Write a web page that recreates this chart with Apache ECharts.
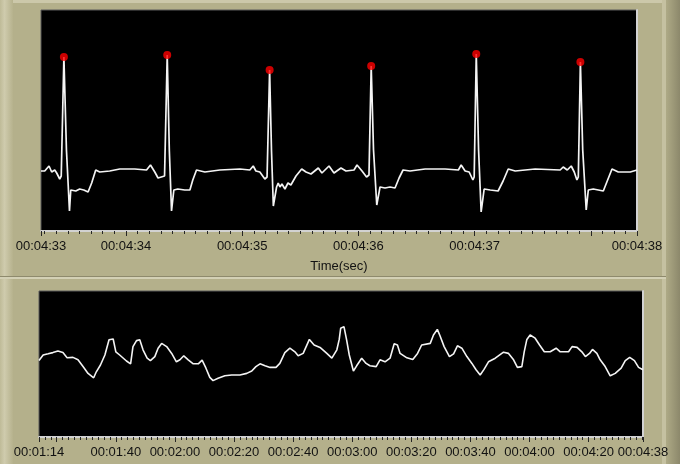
<!DOCTYPE html>
<html>
<head>
<meta charset="utf-8">
<script src="https://cdn.jsdelivr.net/npm/echarts@6/dist/echarts.min.js"></script>
<style>html,body{margin:0;padding:0;background:#b4b08b;}#c{width:680px;height:464px;}</style>
</head>
<body>
<div id="c"></div>
<script>
// ---- ECG strip (top): time in seconds, amplitude in mV ----
const ecgTime = [273.269,273.301,273.338,273.361,273.387,273.404,273.430,273.443,273.466,273.488,273.514,273.525,273.542,273.568,273.602,273.637,273.674,273.705,273.740,273.774,273.860,273.947,274.076,274.177,274.211,274.248,274.276,274.332,274.355,274.373,274.392,274.412,274.446,274.506,274.550,274.575,274.607,274.679,274.808,274.980,275.066,275.095,275.118,275.152,275.195,275.214,275.236,275.252,275.268,275.296,275.310,275.325,275.342,275.368,275.394,275.419,275.463,275.512,275.549,275.592,275.655,275.686,275.747,275.790,275.850,275.893,275.962,275.988,276.031,276.070,276.091,276.110,276.130,276.158,276.186,276.229,276.272,276.315,276.350,276.384,276.444,276.574,276.746,276.860,276.884,276.918,276.953,276.985,276.996,277.014,277.034,277.056,277.082,277.134,277.202,277.245,277.289,277.349,277.521,277.736,277.762,277.797,277.831,277.857,277.880,277.892,277.910,277.930,277.960,277.978,278.021,278.107,278.141,278.182,278.236,278.339,278.397];
const ecgMv = [-0.01,-0.01,0.04,-0.02,0.00,-0.03,-0.09,-0.06,1.13,0.20,-0.41,-0.20,-0.18,-0.21,-0.19,-0.20,-0.22,-0.13,0.00,-0.02,-0.01,0.01,0.01,0.00,0.05,-0.02,-0.08,-0.06,1.15,0.20,-0.41,-0.20,-0.19,-0.20,-0.20,-0.10,0.00,-0.02,0.00,0.01,0.00,0.04,-0.01,-0.02,-0.09,-0.07,1.00,0.20,-0.36,-0.17,-0.13,-0.17,-0.14,-0.19,-0.13,-0.15,-0.06,0.01,-0.02,-0.04,0.02,-0.03,0.04,-0.03,0.02,-0.01,0.00,0.05,-0.01,-0.07,-0.05,1.04,0.20,-0.35,-0.17,-0.18,-0.17,-0.18,-0.08,0.00,-0.01,0.01,0.01,0.00,0.05,-0.01,-0.02,-0.10,-0.07,1.16,0.20,-0.42,-0.19,-0.20,-0.21,-0.11,0.01,-0.01,0.01,0.00,0.03,0.00,0.04,-0.02,-0.10,-0.07,1.08,0.20,-0.40,-0.20,-0.19,-0.21,-0.11,0.01,-0.02,-0.02,0.00];
const peakTime = [273.466,274.355,275.236,276.110,277.014,277.910];
const peakMv = [1.13,1.15,1.00,1.04,1.16,1.08];
const ecgStart = 273.269, ecgEnd = 278.397;
const ecgMajorTicks = [273.269,274,275,276,277,278,278.397];
const ecgLabelTicks = [273.269,274,275,276,277,278.397];

// ---- Heart-rate trend (bottom): time in seconds, beats per minute ----
const trendTime = [74.0,75.4,77.1,78.7,80.4,82.1,83.5,85.5,87.2,88.9,90.6,92.5,93.4,94.8,96.3,97.7,99.1,100.0,101.3,103.6,105.0,105.8,107.0,108.1,109.2,110.6,111.7,113.2,114.3,115.5,117.2,118.9,120.5,121.7,123.0,124.5,126.2,127.9,129.2,130.5,131.8,132.9,134.6,136.9,139.2,142.0,144.3,146.0,147.4,148.8,150.5,152.2,154.2,155.5,157.2,158.9,160.6,161.7,163.4,165.5,167.1,169.1,171.4,173.1,174.8,175.6,176.1,177.2,178.1,179.0,180.4,181.5,183.2,184.7,186.0,188.1,189.4,191.1,192.8,194.2,195.3,196.2,198.5,200.5,202.1,203.5,206.4,207.5,208.8,209.7,211.1,212.9,214.3,215.6,217.1,218.8,220.5,221.9,223.3,224.6,226.1,228.4,231.2,232.9,234.6,235.9,237.4,238.2,239.1,240.2,241.9,243.4,245.0,247.0,249.0,250.4,253.2,254.4,256.1,257.7,258.9,260.3,261.3,262.8,263.9,265.6,267.3,269.0,271.0,272.4,273.9,275.5,276.9,278.4];
const trendBpm = [66.6,68.0,68.3,68.6,69.0,68.6,67.3,67.4,66.8,65.1,63.4,62.3,63.8,65.5,68.0,71.8,72.0,68.8,68.0,66.5,65.8,70.1,71.6,71.8,69.3,67.2,66.6,67.6,69.7,70.9,70.1,68.4,66.3,66.8,67.8,66.8,65.8,65.8,66.7,64.7,62.4,61.6,62.2,62.8,63.0,63.0,63.4,64.0,65.1,65.8,65.3,64.9,64.9,65.9,68.6,69.7,68.8,67.8,68.4,71.9,70.5,69.9,68.4,67.2,69.3,71.9,74.7,75.1,71.8,68.0,64.0,65.3,67.2,65.9,65.3,65.1,66.8,66.3,67.2,70.8,70.5,68.4,67.3,66.9,68.4,70.5,70.9,73.0,74.4,72.8,70.1,67.6,68.3,70.3,69.7,67.6,65.9,64.3,63.0,64.4,66.3,67.2,68.7,68.4,66.8,64.9,65.1,68.8,71.9,73.0,72.2,70.5,68.8,68.8,69.7,68.8,68.8,70.1,69.9,68.8,67.6,68.4,69.4,68.4,66.8,65.1,62.8,63.4,64.7,66.6,67.4,66.6,64.9,64.3];
const trendStart = 74, trendEnd = 278.4;
const trendMajorTicks = [74,80,100,120,140,160,180,200,220,240,260,278.4];
const trendLabelTicks = [74,100,120,140,160,180,200,220,240,260,278.4];

// minor tick positions
const ecgMinorTicks = [];
for (let k = 2733; k <= 2783; k++) ecgMinorTicks.push(k / 10);
const trendMinorTicks = [];
for (let k = 76; k <= 278; k += 2) trendMinorTicks.push(k);

function hms(v) {
  const s = Math.floor(v + 1e-6);
  const p = n => String(n).padStart(2, '0');
  return p(Math.floor(s / 3600)) + ':' + p(Math.floor(s / 60) % 60) + ':' + p(s % 60);
}

const FONT = '"Liberation Sans", Arial, sans-serif';
const TXT = '#121212';
const LIGHT = '#d2d2d2';
const TICK = '#262626';

function xAxes(grid, min, max, minor, major, labels, name) {
  return [
    {
      gridIndex: grid, type: 'value', min: min, max: max, position: 'bottom',
      axisLine: { show: true, onZero: false, lineStyle: { color: LIGHT, width: 2 } },
      axisTick: { show: true, customValues: minor, length: 3, lineStyle: { color: TICK } },
      axisLabel: { show: false }, splitLine: { show: false },
      name: name, nameLocation: 'middle', nameGap: 29,
      nameTextStyle: { color: TXT, fontSize: 13, fontFamily: FONT }
    },
    {
      gridIndex: grid, type: 'value', min: min, max: max, position: 'bottom',
      axisLine: { show: false, onZero: false },
      axisTick: { show: true, customValues: major, length: 5, lineStyle: { color: TICK } },
      axisLabel: { show: true, customValues: labels, formatter: hms, margin: 9,
                   color: TXT, fontSize: 13, fontFamily: FONT },
      splitLine: { show: false }
    }
  ];
}

const chart = echarts.init(document.getElementById('c'), null, { renderer: 'canvas' });
const option = {
  backgroundColor: '#b4b08b',
  animation: false,
  graphic: [
    { type: 'rect', z: -10, shape: { x: 0, y: 0, width: 680, height: 3 }, style: { fill: '#ccc8aa' } },
    { type: 'rect', z: -10, shape: { x: 0, y: 0, width: 13, height: 464 },
      style: { fill: new echarts.graphic.LinearGradient(0, 0, 1, 0, [
        { offset: 0, color: '#bfbb98' }, { offset: 0.35, color: '#cfcbad' }, { offset: 1, color: '#b6b28d' }]) } },
    { type: 'rect', z: -10, shape: { x: 662, y: 0, width: 4, height: 464 }, style: { fill: '#c5c1a1' } },
    { type: 'rect', z: -10, shape: { x: 666, y: 0, width: 14, height: 464 },
      style: { fill: new echarts.graphic.LinearGradient(0, 0, 1, 0, [
        { offset: 0, color: '#aeaa86' }, { offset: 1, color: '#8c886b' }]) } },
    { type: 'rect', z: -9, shape: { x: 0, y: 276, width: 666, height: 1 }, style: { fill: '#8e8a6d' } },
    { type: 'rect', z: -9, shape: { x: 0, y: 277, width: 666, height: 2 }, style: { fill: '#d3d0b5' } }
  ],
  grid: [
    { left: 41, top: 10, width: 596, height: 221, show: true, backgroundColor: '#000',
      borderColor: '#5a5a5a', borderWidth: 1, containLabel: false, outerBoundsMode: 'none' },
    { left: 39, top: 291, width: 604, height: 146, show: true, backgroundColor: '#000',
      borderColor: '#5a5a5a', borderWidth: 1, containLabel: false, outerBoundsMode: 'none' }
  ],
  xAxis: [].concat(
    xAxes(0, ecgStart, ecgEnd, ecgMinorTicks, ecgMajorTicks, ecgLabelTicks, 'Time(sec)'),
    xAxes(1, trendStart, trendEnd, trendMinorTicks, trendMajorTicks, trendLabelTicks, '')
  ),
  yAxis: [
    { gridIndex: 0, type: 'value', min: -0.61, max: 1.60, axisLine: { show: false, onZero: false },
      axisTick: { show: false }, axisLabel: { show: false }, splitLine: { show: false } },
    { gridIndex: 0, type: 'value', position: 'right', min: 0, max: 1,
      axisLine: { show: true, onZero: false, lineStyle: { color: LIGHT, width: 2 } },
      axisTick: { show: false }, axisLabel: { show: false }, splitLine: { show: false } },
    { gridIndex: 1, type: 'value', min: 47.5, max: 84, axisLine: { show: false, onZero: false },
      axisTick: { show: false }, axisLabel: { show: false }, splitLine: { show: false } },
    { gridIndex: 1, type: 'value', position: 'right', min: 0, max: 1,
      axisLine: { show: true, onZero: false, lineStyle: { color: LIGHT, width: 2 } },
      axisTick: { show: false }, axisLabel: { show: false }, splitLine: { show: false } }
  ],
  series: [
    { type: 'line', xAxisIndex: 0, yAxisIndex: 0, z: 3, symbol: 'none', silent: true,
      data: ecgTime.map((t, i) => [t, ecgMv[i]]),
      lineStyle: { color: '#f4f4f4', width: 1.7 } },
    { type: 'scatter', xAxisIndex: 0, yAxisIndex: 0, z: 4, symbol: 'circle', symbolSize: 8, silent: true,
      data: peakTime.map((t, i) => [t, peakMv[i]]),
      itemStyle: { color: '#ff0000' } },
    { type: 'line', xAxisIndex: 2, yAxisIndex: 2, z: 3, symbol: 'none', silent: true,
      data: trendTime.map((t, i) => [t, trendBpm[i]]),
      lineStyle: { color: '#f4f4f4', width: 1.6 } }
  ]
};
chart.setOption(option);
</script>
</body>
</html>
